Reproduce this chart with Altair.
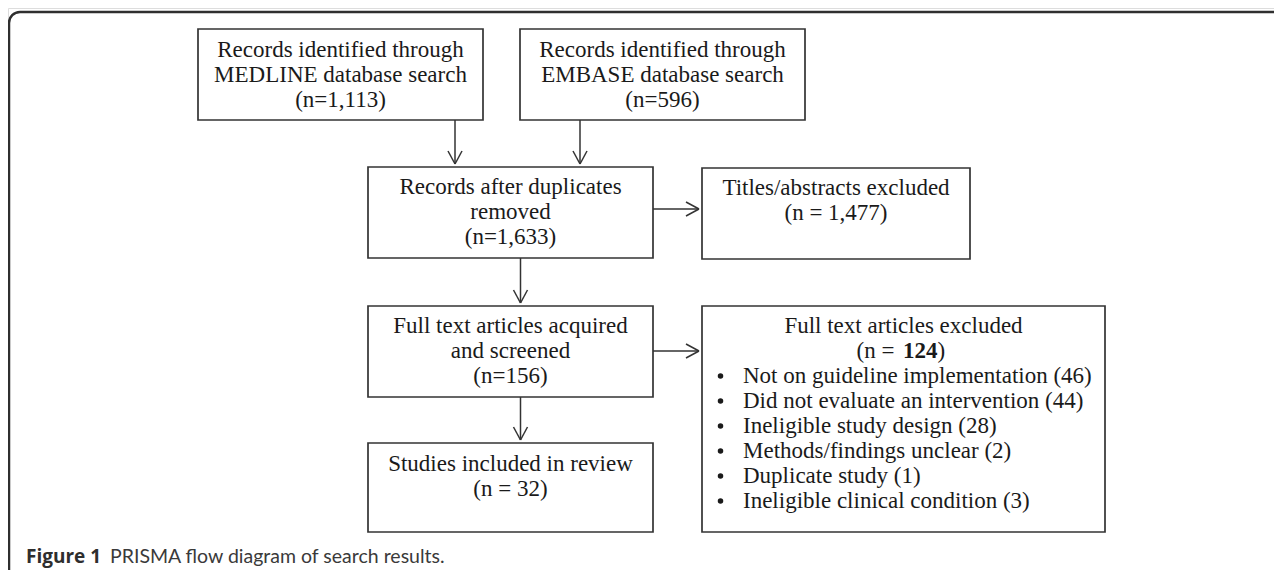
import altair as alt
import pandas as pd

# ---------------- data (texts and counts) ----------------
medline_lines = ["Records identified through", "MEDLINE database search", "(n=1,113)"]
embase_lines = ["Records identified through", "EMBASE database search", "(n=596)"]
dedup_lines = ["Records after duplicates", "removed", "(n=1,633)"]
titles_lines = ["Titles/abstracts excluded", "(n = 1,477)"]
fulltext_lines = ["Full text articles acquired", "and screened", "(n=156)"]
excluded_title = "Full text articles excluded"
excluded_n = "124"
reasons = ["Not on guideline implementation", "Did not evaluate an intervention",
           "Ineligible study design", "Methods/findings unclear",
           "Duplicate study", "Ineligible clinical condition"]
reason_counts = [46, 44, 28, 2, 1, 3]
included_lines = ["Studies included in review", "(n = 32)"]
caption_bold = "Figure 1"
caption_text = "PRISMA flow diagram of search results."

# ---------------- layout (page pixel coordinates) ----------------
W, H = 1266, 562
OX, OY = 8, 8
LINE = 25

box_names = ["medline", "embase", "dedup", "titles", "fulltext", "excluded", "included"]
box_left = [198, 520, 368, 702, 368, 702, 368]
box_right = [483, 805, 653, 970, 653, 1105, 653]
box_top = [29, 29, 167, 168, 306, 306, 443]
box_bottom = [120, 120, 258, 259, 397, 532, 532]
first_line_y = [50, 50, 187, 188, 326, 326, 464]
box_lines = {"medline": medline_lines, "embase": embase_lines, "dedup": dedup_lines,
             "titles": titles_lines, "fulltext": fulltext_lines,
             "included": included_lines}

xs = alt.Scale(domain=[OX, OX + W], nice=False, zero=False)
ys = alt.Scale(domain=[OY, OY + H], nice=False, zero=False, reverse=True)
FONT = "Liberation Serif"
FS = 23
TXT = "#1a1a1a"
LN = "#333333"

# boxes
boxes = pd.DataFrame({"name": box_names, "x": box_left, "x2": box_right,
                      "y": box_top, "y2": box_bottom})

# centered text lines
rows = []
for i, n in enumerate(box_names):
    if n in box_lines:
        cx = (box_left[i] + box_right[i]) / 2
        for j, t in enumerate(box_lines[n]):
            rows.append({"x": cx, "y": first_line_y[i] + j * LINE, "text": t})
ei = box_names.index("excluded")
ecx = (box_left[ei] + box_right[ei]) / 2
rows.append({"x": ecx, "y": first_line_y[ei], "text": excluded_title})
center_df = pd.DataFrame(rows)

# "(n = 124)" with bold number
ny = first_line_y[ei] + LINE
npre = pd.DataFrame({"x": [ecx - 9], "y": [ny], "text": ["(n ="]})
nnum = pd.DataFrame({"x": [ecx - 0.5], "y": [ny], "text": [excluded_n]})
npost = pd.DataFrame({"x": [ecx + 34], "y": [ny], "text": [")"]})

# bullet list
bul = pd.DataFrame({
    "x": [box_left[ei] + 41] * len(reasons),
    "bx": [box_left[ei] + 18.5] * len(reasons),
    "y": [first_line_y[ei] + (k + 2) * LINE for k in range(len(reasons))],
    "text": [f"{r} ({c})" for r, c in zip(reasons, reason_counts)],
})

# arrows: (from box, to box, direction)
arrow_defs = [("medline", "dedup", "down", 455), ("embase", "dedup", "down", 580),
              ("dedup", "titles", "right", None), ("dedup", "fulltext", "down", None),
              ("fulltext", "excluded", "right", None), ("fulltext", "included", "down", None)]
segs = []
AH, AW = 13, 7
for a, b, d, px in arrow_defs:
    ia, ib = box_names.index(a), box_names.index(b)
    if d == "down":
        x = px if px is not None else (box_left[ia] + box_right[ia]) / 2 + 10
        y0, y1 = box_bottom[ia], box_top[ib] - 3
        segs += [(x, y0, x, y1), (x - AW, y1 - AH, x, y1), (x + AW, y1 - AH, x, y1)]
    else:
        y = first_line_y[ia] + 22 if a == "dedup" else first_line_y[ia] + 25
        x0, x1 = box_right[ia], box_left[ib] - 3
        segs += [(x0, y, x1, y), (x1 - AH, y - AW, x1, y), (x1 - AH, y + AW, x1, y)]
seg_df = pd.DataFrame(segs, columns=["x", "y", "x2", "y2"])

frame_df = pd.DataFrame({"x": [9], "x2": [1400], "y": [12], "y2": [900]})

cap_b = pd.DataFrame({"x": [26], "y": [557], "text": [caption_bold]})
cap_r = pd.DataFrame({"x": [110], "y": [557], "text": [caption_text]})

enc_rect = dict(x=alt.X("x:Q", scale=xs, axis=None), x2="x2:Q",
                y=alt.Y("y:Q", scale=ys, axis=None), y2="y2:Q")
enc_txt = dict(x=alt.X("x:Q", scale=xs, axis=None),
               y=alt.Y("y:Q", scale=ys, axis=None), text="text:N")

frame = alt.Chart(frame_df).mark_rect(fill=None, stroke="#2f2f2f", strokeWidth=2.5,
                                      cornerRadius=11, clip=True).encode(**enc_rect)
box_layer = alt.Chart(boxes).mark_rect(fill="white", stroke=LN,
                                       strokeWidth=1.7).encode(**enc_rect)
arrows = alt.Chart(seg_df).mark_rule(stroke=LN, strokeWidth=1.5).encode(**enc_rect)

tcenter = alt.Chart(center_df).mark_text(font=FONT, fontSize=FS, color=TXT,
                                         align="center", baseline="middle").encode(**enc_txt)
tpre = alt.Chart(npre).mark_text(font=FONT, fontSize=FS, color=TXT, align="right",
                                 baseline="middle").encode(**enc_txt)
tnum = alt.Chart(nnum).mark_text(font=FONT, fontSize=FS, color=TXT, align="left",
                                 baseline="middle", fontWeight="bold").encode(**enc_txt)
tpost = alt.Chart(npost).mark_text(font=FONT, fontSize=FS, color=TXT, align="left",
                                   baseline="middle").encode(**enc_txt)
tbul = alt.Chart(bul).mark_text(font=FONT, fontSize=FS, color=TXT, align="left",
                                baseline="middle").encode(**enc_txt)
tdot = alt.Chart(bul).mark_point(filled=True, shape="circle", size=30, color=TXT,
                                 opacity=1).encode(
    x=alt.X("bx:Q", scale=xs, axis=None), y=alt.Y("y:Q", scale=ys, axis=None))
cb = alt.Chart(cap_b).mark_text(font="Open Sans", fontSize=19, color="#2e2e2e",
                                align="left", baseline="middle",
                                fontWeight="bold").encode(**enc_txt)
cr = alt.Chart(cap_r).mark_text(font="Lato", fontSize=19.5, color="#3a3a3a", align="left",
                                baseline="middle").encode(**enc_txt)

chart = alt.layer(frame, box_layer, arrows, tcenter, tpre, tnum, tpost, tbul, tdot,
                  cb, cr).properties(
    width=W, height=H, autosize=alt.AutoSizeParams(type="none"), padding=0
).configure_view(stroke=None).configure(background="white")

chart.save("out.html", embed_options={"renderer": "svg", "actions": False})
